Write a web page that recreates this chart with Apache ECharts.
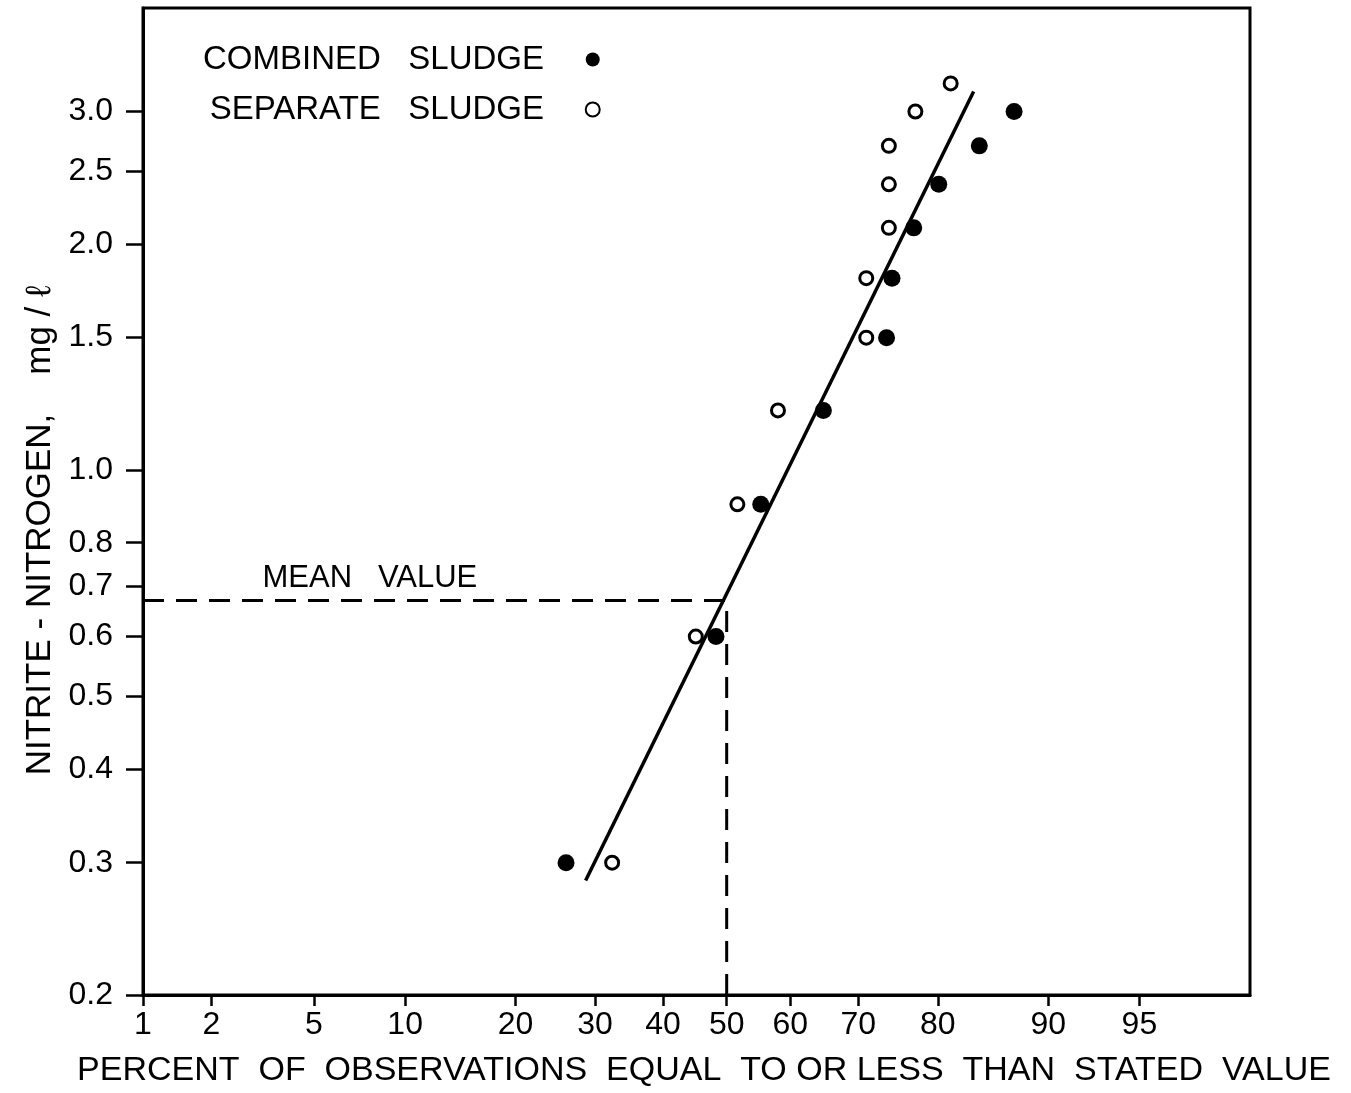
<!DOCTYPE html>
<html>
<head>
<meta charset="utf-8">
<script src="https://cdn.jsdelivr.net/npm/echarts@6/dist/echarts.min.js"></script>
<style>
html,body{margin:0;padding:0;background:#fff;}
#chart{width:1351px;height:1093px;}
</style>
</head>
<body>
<div id="chart"></div>
<script>
// ---- data (x in percent of observations, y in mg/l) ----
const combinedPct = [26.1, 48.3, 55.4, 65.0, 73.8, 74.5, 77.2, 80.1, 84.3, 87.4];
const combinedVal = [0.30, 0.60, 0.90, 1.20, 1.50, 1.80, 2.10, 2.40, 2.70, 3.00];
const separatePct = [32.4, 45.1, 51.7, 58.1, 71.1, 71.1, 74.1, 74.1, 74.1, 77.4, 81.4];
const separateVal = [0.30, 0.60, 0.90, 1.20, 1.50, 1.80, 2.10, 2.40, 2.70, 3.00, 3.27];
const fitPct = [28.7, 83.75];
const fitVal = [0.284, 3.19];
const meanPct = 50;
const meanVal = 0.67;
const meanLabelPct = 7.75;
const xTickPcts = [1, 2, 5, 10, 20, 30, 40, 50, 60, 70, 80, 90, 95];
const yTickVals = [0.2, 0.3, 0.4, 0.5, 0.6, 0.7, 0.8, 1.0, 1.5, 2.0, 2.5, 3.0];
const xRangePct = [1, 98.15];
const yRange = [0.2, 4.12];

// normal probability scale: percent -> standard normal quantile
function probit(pct) {
  const p = pct / 100;
  const a=[-3.969683028665376e+01,2.209460984245205e+02,-2.759285104469687e+02,1.383577518672690e+02,-3.066479806614716e+01,2.506628277459239e+00];
  const b=[-5.447609879822406e+01,1.615858368580409e+02,-1.556989798598866e+02,6.680131188771972e+01,-1.328068155288572e+01];
  const c=[-7.784894002430293e-03,-3.223964580411365e-01,-2.400758277161838e+00,-2.549732539343734e+00,4.374664141464968e+00,2.938163982698783e+00];
  const d=[7.784695709041462e-03,3.224671290700398e-01,2.445134137142996e+00,3.754408661907416e+00];
  const pl = 0.02425, ph = 1 - pl;
  let q, r;
  if (p < pl) { q = Math.sqrt(-2*Math.log(p)); return (((((c[0]*q+c[1])*q+c[2])*q+c[3])*q+c[4])*q+c[5])/((((d[0]*q+d[1])*q+d[2])*q+d[3])*q+1); }
  if (p <= ph) { q = p - 0.5; r = q*q; return (((((a[0]*r+a[1])*r+a[2])*r+a[3])*r+a[4])*r+a[5])*q/(((((b[0]*r+b[1])*r+b[2])*r+b[3])*r+b[4])*r+1); }
  q = Math.sqrt(-2*Math.log(1-p)); return -(((((c[0]*q+c[1])*q+c[2])*q+c[3])*q+c[4])*q+c[5])/((((d[0]*q+d[1])*q+d[2])*q+d[3])*q+1);
}
const pair = (pcts, vals) => pcts.map((p, i) => [probit(p), vals[i]]);
const xTickZ = xTickPcts.map(probit);
function xLabel(v) {
  let best = 0;
  xTickZ.forEach((z, i) => { if (Math.abs(z - v) < Math.abs(xTickZ[best] - v)) best = i; });
  return String(xTickPcts[best]);
}

const FONT = "'Liberation Sans', Arial, Helvetica, sans-serif";
const NAME_COMBINED = 'COMBINED   SLUDGE    ';
const NAME_SEPARATE = 'SEPARATE   SLUDGE    ';
const chart = echarts.init(document.getElementById('chart'), null, {renderer: 'canvas'});
chart.setOption({
  animation: false,
  backgroundColor: '#fff',
  textStyle: {fontFamily: FONT, color: '#000'},
  grid: {left: 143, right: 101, top: 8, bottom: 96, show: true, borderColor: '#000', borderWidth: 3},
  legend: {
    orient: 'vertical', left: 203, top: 43, padding: 0, align: 'right', itemGap: 17,
    itemWidth: 14, itemHeight: 14, selectedMode: false,
    textStyle: {fontFamily: FONT, fontSize: 33, color: '#000'},
    data: [{name: NAME_COMBINED, icon: 'circle'}, {name: NAME_SEPARATE, icon: 'circle'}]
  },
  xAxis: {
    type: 'value', min: probit(xRangePct[0]), max: probit(xRangePct[1]),
    splitLine: {show: false},
    axisLine: {onZero: false, lineStyle: {color: '#000', width: 3}},
    axisTick: {customValues: xTickZ, length: 11, lineStyle: {color: '#000', width: 2.5}},
    axisLabel: {customValues: xTickZ, formatter: xLabel, fontSize: 32, margin: 14, color: '#000', fontFamily: FONT},
    name: 'PERCENT  OF  OBSERVATIONS  EQUAL  TO OR LESS  THAN  STATED  VALUE',
    nameLocation: 'middle', nameGap: 59,
    nameTextStyle: {fontSize: 34, color: '#000', fontFamily: FONT, padding: [0, 0, 0, 15]}
  },
  yAxis: {
    type: 'log', logBase: 10, min: yRange[0], max: yRange[1],
    splitLine: {show: false},
    axisLine: {onZero: false, lineStyle: {color: '#000', width: 3}},
    axisTick: {customValues: yTickVals, length: 17, lineStyle: {color: '#000', width: 2.5}},
    axisLabel: {customValues: yTickVals, formatter: v => Number(v).toFixed(1), fontSize: 32, margin: 30, color: '#000', fontFamily: FONT},
    name: 'NITRITE - NITROGEN,    mg / ℓ',
    nameLocation: 'middle', nameGap: 83,
    nameTextStyle: {fontSize: 35, color: '#000', fontFamily: FONT, padding: [0, 58, 0, 0]}
  },
  series: [
    {
      name: 'fit', type: 'line', data: pair(fitPct, fitVal), symbol: 'none',
      lineStyle: {color: '#000', width: 3.5, opacity: 1}, silent: true, z: 2
    },
    {
      name: 'mean', type: 'line',
      data: [[probit(xRangePct[0]), meanVal], [probit(meanPct), meanVal], [probit(meanPct), yRange[0]]],
      symbol: 'none', lineStyle: {color: '#000', width: 3, type: [21, 12], opacity: 1}, silent: true, z: 2
    },
    {
      name: 'meanLabel', type: 'scatter', data: [[probit(meanLabelPct), meanVal]], symbolSize: 0,
      itemStyle: {opacity: 1},
      label: {show: true, position: 'top', distance: 7, formatter: 'MEAN   VALUE', fontSize: 31, color: '#000', fontFamily: FONT, opacity: 1},
      silent: true
    },
    {
      name: NAME_COMBINED, type: 'scatter', data: pair(combinedPct, combinedVal),
      symbol: 'circle', symbolSize: 17, itemStyle: {color: '#000', opacity: 1}, z: 5
    },
    {
      name: NAME_SEPARATE, type: 'scatter', data: pair(separatePct, separateVal),
      symbol: 'circle', symbolSize: 13, itemStyle: {color: '#fff', borderColor: '#000', borderWidth: 3, opacity: 1}, z: 5
    }
  ]
});
</script>
</body>
</html>
